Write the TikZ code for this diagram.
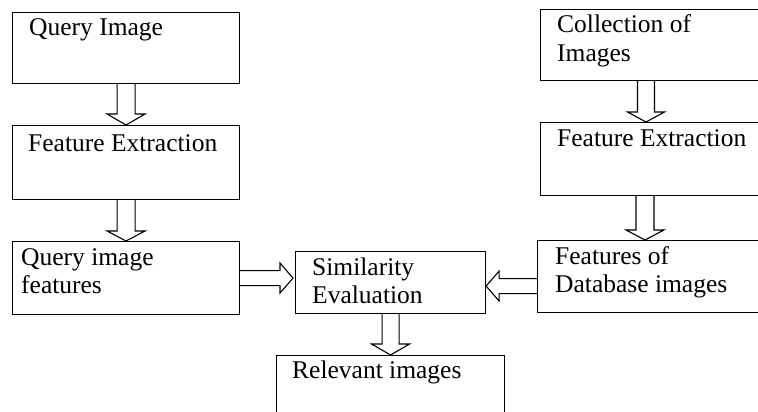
\documentclass[tikz,border=0pt]{standalone}
\usepackage{fontspec}
\setmainfont{Liberation Serif}
\usetikzlibrary{calc}
\newcommand\twoln[2]{\vtop{\hbox{#1}\hbox{#2}}}
% vertical block arrow: #1 start, #2 tip, #3 shaft half, #4 head half, #5 head length
\newcommand\blkdown[5]{%
  \draw[blk] ($(#1)+({-(#3)},0)$) -- ($(#2)+({-(#3)},{-(#5)})$) -- ($(#2)+({-(#4)},{-(#5)})$) -- (#2)
    -- ($(#2)+({#4},{-(#5)})$) -- ($(#2)+({#3},{-(#5)})$) -- ($(#1)+({#3},0)$);}
% horizontal block arrow (#5 signed: positive = pointing right)
\newcommand\blkhor[5]{%
  \draw[blk] ($(#1)+(0,{-(#3)})$) -- ($(#2)+({-(#5)},{-(#3)})$) -- ($(#2)+({-(#5)},{-(#4)})$) -- (#2)
    -- ($(#2)+({-(#5)},{#4})$) -- ($(#2)+({-(#5)},{#3})$) -- ($(#1)+(0,{#3})$);}
\begin{document}
\begin{tikzpicture}[x={(1pt,0)},y={(0,-1pt)},
  box/.style={draw,line width=1.1pt,rectangle,inner sep=0pt,anchor=north west},
  txt/.style={anchor=base west,inner sep=0pt,font=\fontsize{25.5}{28.5}\selectfont},
  blk/.style={draw,line width=1.1pt,line join=miter}]
\useasboundingbox (0,0) rectangle (758,412);
\clip (0,0) rectangle (758,412);
% left column
\node[box,minimum width=227pt,minimum height=71pt] (q1) at (12,12) {};
\node[box,minimum width=227pt,minimum height=74pt] (q2) at (12,125) {};
\node[box,minimum width=227pt,minimum height=73pt] (q3) at (12,241) {};
% middle
\node[box,minimum width=190pt,minimum height=62pt] (sim) at (295,251) {};
\node[box,minimum width=228pt,minimum height=80pt] (rel) at (276,355) {};
% right column
\node[box,minimum width=235pt,minimum height=71pt] (c1) at (540,9) {};
\node[box,minimum width=235pt,minimum height=73pt] (c2) at (540,122) {};
\node[box,minimum width=238pt,minimum height=72pt] (c3) at (537,240) {};
% texts
\node[txt] (t1) at ($(q1.north west)+(17,24)$) {Query Image};
\node[txt] (t2) at ($(q2.north west)+(16,26)$) {Feature Extraction};
\node[txt] (t3) at ($(q3.north west)+(9,24)$) {\twoln{Query image}{features}};
\node[txt] (t4) at ($(sim.north west)+(17,24)$) {\twoln{Similarity}{Evaluation}};
\node[txt] (t5) at ($(rel.north west)+(16,23)$) {Relevant images};
\node[txt] (t6) at ($(c1.north west)+(17,24)$) {\twoln{Collection of}{Images}};
\node[txt] (t7) at ($(c2.north west)+(17,24)$) {Feature Extraction};
\node[txt] (t8) at ($(c3.north west)+(18,24)$) {\twoln{Features of}{Database images}};
% coordinates for arrows
\coordinate (a1s) at (q1.south);
\coordinate (a1t) at (q2.north);
\coordinate (a2s) at (q2.south);
\coordinate (a2t) at (q3.north);
\coordinate (b1s) at ($(c1.south west)+(106,0)$);
\coordinate (b1t) at ($(c2.north west)+(106,0)$);
\coordinate (b2s) at ($(c2.south west)+(105,0)$);
\coordinate (b2t) at ($(c3.north west)+(108,0)$);
\coordinate (h1s) at (q3.east);
\coordinate (h1t) at ($(sim.west)+(-2,-4.5)$);
\coordinate (h2s) at ($(c3.west)+(0,9.5)$);
\coordinate (h2t) at ($(sim.east)+(0,3.5)$);
\coordinate (d1s) at (sim.south);
\coordinate (d1t) at (rel.north);
% arrows
\blkdown{a1s}{a1t}{9}{19}{11}
\blkdown{a2s}{a2t}{9}{19}{10}
\blkdown{b1s}{b1t}{8.5}{18.5}{10}
\blkdown{b2s}{b2t}{9}{19}{10}
\blkhor{h1s}{h1t}{7.5}{15}{13}
\blkhor{h2s}{h2t}{7.5}{15}{-13}
\blkdown{d1s}{d1t}{8.5}{19}{11}
\end{tikzpicture}
\end{document}
